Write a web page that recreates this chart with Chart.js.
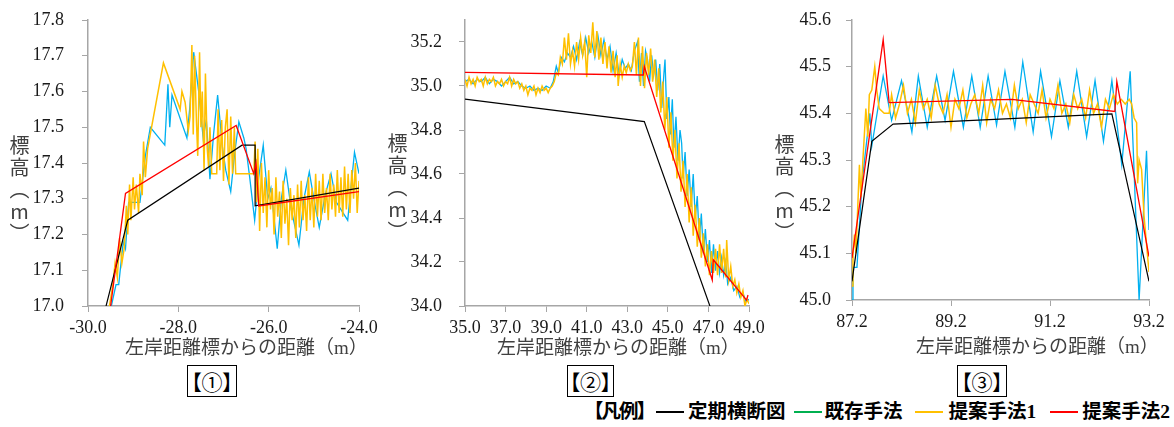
<!DOCTYPE html>
<html>
<head>
<meta charset="utf-8">
<script src="https://cdn.jsdelivr.net/npm/chart.js@4.4.1/dist/chart.umd.min.js"></script>
<style>
  body { margin: 0; width: 1174px; height: 427px; background: #fff; position: relative; overflow: hidden;
         font-family: "Liberation Serif", "Noto Sans CJK JP", serif; color: #404040; }
  canvas { position: absolute; top: 0; }
  .ytitle { position: absolute; font-family: "Noto Sans CJK JP"; font-size: 20px; line-height: 20px;
            writing-mode: vertical-rl; text-orientation: upright; letter-spacing: 2px; color: #404040; }
  .xtitle { position: absolute; font-size: 19px; line-height: 24px; white-space: nowrap; color: #404040; }
  .tag { position: absolute; top: 365px; height: 32px; border: 1px solid #000; box-sizing: border-box;
         font-family: "Noto Sans CJK JP"; font-size: 21px; line-height: 30px; text-align: center;
         font-feature-settings: "palt"; color: #000; }
  #legend { position: absolute; left: 584px; top: 400px; display: flex; align-items: center;
            font-weight: bold; font-size: 19.5px; line-height: 24px; color: #000; white-space: nowrap; }
  #legend .hd { letter-spacing: -2px; }
  #legend .ln { display: inline-block; width: 28px; height: 1.5px; }
</style>
</head>
<body>
<canvas id="c1" width="380" height="345" style="left:0px"></canvas>
<canvas id="c2" width="390" height="345" style="left:380px"></canvas>
<canvas id="c3" width="404" height="345" style="left:770px"></canvas>

<div class="ytitle" style="left:9px;top:135px">標高（m）</div>
<div class="ytitle" style="left:387px;top:133px">標高（m）</div>
<div class="ytitle" style="left:774px;top:134px">標高（m）</div>

<div class="xtitle" style="left:125px;top:336px">左岸距離標からの距離（m）</div>
<div class="xtitle" style="left:497px;top:336px">左岸距離標からの距離（m）</div>
<div class="xtitle" style="left:916px;top:335px">左岸距離標からの距離（m）</div>

<div class="tag" style="left:187px;width:50px">【①】</div>
<div class="tag" style="left:567px;width:47px">【②】</div>
<div class="tag" style="left:957px;width:50px">【③】</div>

<div id="legend"></div>

<script>
// series names and colours
const seriesNames = ['定期横断図', '既存手法', '提案手法1', '提案手法2'];
const seriesColors = ['#000000', '#00B0F0', '#FFC000', '#FF0000'];
const legendColors = ['#000000', '#00B050', '#FFC000', '#FF0000'];

// ---- panel 1 ----
const p1XTicks = [-30, -28, -26, -24];
const p1YTicks = [17.0, 17.1, 17.2, 17.3, 17.4, 17.5, 17.6, 17.7, 17.8];

const p1BlackX = [-29.7, -29.12, -26.59, -26.30, -26.30, -24.0];
const p1BlackY = [16.95, 17.24, 17.45, 17.45, 17.28, 17.33];

const p1RedX = [-29.52, -29.17, -26.72, -26.33, -26.28, -26.22, -24.0];
const p1RedY = [16.98, 17.315, 17.505, 17.37, 17.40, 17.28, 17.32];

const p1BlueX = [-29.5, -29.38, -29.32, -29.22, -29.17, -29.1, -28.85, -28.73, -28.62, -28.30, -28.23, -28.19,
  -28.14, -27.81, -27.75, -27.66, -27.55, -27.45, -27.38, -27.30, -27.22, -27.13, -27.02, -26.95, -26.84,
  -26.75, -26.66, -26.55, -26.5, -26.42, -26.31, -26.22, -26.12, -26.02, -25.95, -25.81, -25.72, -25.62,
  -25.5, -25.33, -25.22, -25.10, -25.0, -24.88, -24.75, -24.62, -24.5, -24.35, -24.25, -24.10, -24.0];
const p1BlueY = [16.99, 17.06, 17.06, 17.18, 17.16, 17.29, 17.29, 17.42, 17.50, 17.45, 17.62, 17.50,
  17.59, 17.47, 17.55, 17.71, 17.60, 17.47, 17.52, 17.355, 17.48, 17.59, 17.44, 17.38, 17.32,
  17.43, 17.515, 17.47, 17.44, 17.36, 17.24, 17.36, 17.45, 17.30, 17.33, 17.16, 17.30, 17.38,
  17.27, 17.17, 17.30, 17.375, 17.30, 17.22, 17.31, 17.37, 17.29, 17.26, 17.24, 17.43, 17.37];

const p1OrangeX = [-29.55, -29.45, -29.4, -29.35, -29.3, -29.25, -29.2, -29.15, -29.12, -29.08, -29.05, -29.0,
  -28.97, -28.93, -28.88, -28.85, -28.8, -28.77, -28.73, -28.68, -28.33, -27.96, -27.92, -27.85, -27.78,
  -27.74, -27.70, -27.67, -27.64, -27.6, -27.57, -27.53, -27.5, -27.47, -27.43, -27.4, -27.36, -27.33,
  -27.3, -27.26, -27.15, -27.12, -27.08, -27.04, -27.0, -26.96, -26.92, -26.88, -26.84, -26.8, -26.76,
  -26.73, -26.33, -26.3, -26.27, -26.24, -26.2, -26.16, -26.12, -26.08, -26.04, -26.0, -25.96, -25.92,
  -25.88, -25.84, -25.8, -25.76, -25.72, -25.68, -25.64, -25.6, -25.56, -25.52, -25.48, -25.44, -25.4,
  -25.36, -25.32, -25.28, -25.24, -25.2, -25.16, -25.12, -25.08, -25.04, -25.0, -24.96, -24.92, -24.88,
  -24.84, -24.8, -24.76, -24.72, -24.68, -24.64, -24.6, -24.56, -24.52, -24.48, -24.44, -24.4, -24.36,
  -24.32, -24.28, -24.24, -24.2, -24.16, -24.12, -24.08, -24.04, -24.0];
const p1OrangeY = [16.98, 17.06, 17.12, 17.08, 17.19, 17.12, 17.16, 17.28, 17.20, 17.34, 17.24, 17.36,
  17.27, 17.34, 17.26, 17.37, 17.31, 17.46, 17.36, 17.44, 17.68, 17.55, 17.60, 17.57, 17.49,
  17.53, 17.73, 17.48, 17.70, 17.52, 17.42, 17.71, 17.50, 17.60, 17.38, 17.65, 17.44, 17.39,
  17.50, 17.37, 17.37, 17.55, 17.38, 17.52, 17.35, 17.50, 17.55, 17.34, 17.53, 17.37, 17.50,
  17.37, 17.37, 17.46, 17.29, 17.44, 17.21, 17.40, 17.26, 17.36, 17.22, 17.38, 17.27, 17.33,
  17.20, 17.36, 17.25, 17.32, 17.19, 17.35, 17.23, 17.30, 17.17, 17.33, 17.24, 17.31, 17.19,
  17.34, 17.22, 17.35, 17.24, 17.31, 17.21, 17.36, 17.24, 17.33, 17.22, 17.37, 17.25, 17.35,
  17.24, 17.37, 17.26, 17.33, 17.24, 17.37, 17.27, 17.34, 17.25, 17.38, 17.26, 17.36, 17.25,
  17.39, 17.27, 17.37, 17.26, 17.38, 17.30, 17.40, 17.26, 17.35];

// ---- panel 2 ----
const p2XTicks = [35, 37, 39, 41, 43, 45, 47, 49];
const p2YTicks = [34.0, 34.2, 34.4, 34.6, 34.8, 35.0, 35.2];

const p2BlackX = [35.0, 43.84, 47.15];
const p2BlackY = [34.94, 34.838, 33.98];

const p2RedX = [35.0, 43.79, 43.84, 47.19, 47.24, 48.88, 48.95];
const p2RedY = [35.062, 35.05, 35.088, 34.118, 34.21, 34.027, 34.05];

const p2BlueX = [35.0, 35.2, 35.4, 35.6, 35.8, 36.0, 36.2, 36.4, 36.6, 36.8, 37.0, 37.2, 37.4, 37.6, 37.8,
  38.0, 38.2, 38.4, 38.6, 38.8, 39.0, 39.2, 39.35, 39.5, 39.6, 39.75, 39.9, 40.05, 40.2, 40.35, 40.5,
  40.65, 40.8, 40.95, 41.1, 41.25, 41.4, 41.55, 41.7, 41.85, 42.0, 42.15, 42.3, 42.45, 42.6, 42.75,
  42.9, 43.05, 43.2, 43.35, 43.5, 43.6, 43.7, 43.8, 43.9, 44.0, 44.1, 44.2, 44.3, 44.4, 44.5, 44.6,
  44.7, 44.8, 44.86, 44.95, 45.05, 45.12, 45.22, 45.3, 45.4, 45.5, 45.6, 45.68, 45.75, 45.85, 45.95,
  46.05, 46.15, 46.25, 46.35, 46.45, 46.55, 46.65, 46.75, 46.85, 46.95, 47.05, 47.15, 47.25, 47.35,
  47.45, 47.55, 47.65, 47.75, 47.85, 47.95, 48.1, 48.25, 48.4, 48.55, 48.7, 48.85, 49.0];
const p2BlueY = [35.02, 35.03, 35.01, 35.03, 35.02, 35.04, 35.01, 35.03, 35.02, 35.0, 35.02, 35.04, 35.01, 35.02, 35.0,
  34.99, 35.0, 34.98, 34.99, 34.98, 35.0, 34.99, 35.02, 35.09, 35.06, 35.13, 35.11, 35.15, 35.13, 35.18, 35.12,
  35.2, 35.14, 35.22, 35.15, 35.2, 35.13, 35.23, 35.14, 35.21, 35.12, 35.18, 35.07, 35.15, 35.05, 35.12,
  35.08, 35.1, 35.07, 35.16, 35.2, 35.02, 35.15, 35.0, 35.16, 35.12, 35.02, 35.14, 35.05, 35.12, 34.98, 35.1,
  34.9, 35.05, 35.12, 34.85, 34.95, 34.78, 34.94, 34.72, 34.86, 34.66, 34.8, 34.74, 34.58, 34.7, 34.5,
  34.62, 34.45, 34.6, 34.4, 34.5, 34.3, 34.42, 34.24, 34.35, 34.2, 34.3, 34.15, 34.28, 34.16,
  34.25, 34.15, 34.22, 34.14, 34.2, 34.1, 34.13, 34.07, 34.09, 34.04, 34.06, 34.02, 34.03];

const p2OrangeX = [35.0, 35.1, 35.2, 35.3, 35.4, 35.5, 35.6, 35.7, 35.8, 35.9, 36.0, 36.1, 36.2, 36.3, 36.4,
  36.5, 36.6, 36.7, 36.8, 36.9, 37.0, 37.1, 37.2, 37.3, 37.4, 37.5, 37.6, 37.7, 37.8, 37.9, 38.0, 38.1,
  38.2, 38.3, 38.4, 38.5, 38.6, 38.7, 38.8, 38.9, 39.0, 39.1, 39.2, 39.3, 39.4, 39.5, 39.6, 39.7, 39.8,
  39.9, 40.0, 40.1, 40.2, 40.3, 40.4, 40.5, 40.6, 40.7, 40.8, 40.9, 41.0, 41.1, 41.2, 41.3, 41.4, 41.5,
  41.6, 41.7, 41.8, 41.9, 42.0, 42.1, 42.2, 42.3, 42.4, 42.5, 42.55, 42.65, 42.75, 42.85, 42.95, 43.05,
  43.15, 43.25, 43.35, 43.45, 43.55, 43.65, 43.75, 43.85, 43.95, 44.05, 44.15, 44.25, 44.35, 44.45,
  44.55, 44.65, 44.75, 44.85, 44.95, 45.05, 45.15, 45.25, 45.35, 45.45, 45.55, 45.65, 45.75, 45.85,
  45.95, 46.05, 46.15, 46.25, 46.35, 46.45, 46.55, 46.65, 46.75, 46.85, 46.95, 47.05, 47.15, 47.25,
  47.35, 47.45, 47.55, 47.65, 47.75, 47.85, 47.9, 48.0, 48.1, 48.2, 48.3, 48.4, 48.5, 48.6, 48.7,
  48.8, 48.9, 49.0];
const p2OrangeY = [35.03, 35.0, 35.04, 35.01, 35.03, 35.0, 35.04, 35.02, 35.03, 35.0, 35.04, 35.01, 35.03, 35.02, 35.04,
  35.0, 35.02, 35.01, 35.03, 35.0, 35.02, 35.01, 35.04, 35.0, 35.03, 35.01, 35.02, 34.99, 35.01, 34.98, 35.0, 34.96,
  34.99, 34.98, 35.0, 34.96, 34.99, 34.97, 35.0, 34.98, 34.99, 34.97, 34.99, 35.0, 35.02, 35.06, 35.05, 35.13, 35.1,
  35.22, 35.12, 35.24, 35.1, 35.16, 35.09, 35.2, 35.12, 35.22, 35.14, 35.2, 35.04, 35.23, 35.15, 35.29, 35.13, 35.25,
  35.12, 35.22, 35.1, 35.2, 35.08, 35.18, 35.06, 35.16, 35.04, 35.14, 35.0, 35.1, 35.04, 35.09, 35.06, 35.1,
  35.07, 35.09, 35.2, 35.05, 35.22, 35.0, 35.18, 34.99, 35.15, 35.05, 35.17, 35.02, 35.12, 34.95,
  35.08, 34.88, 35.02, 34.8, 34.95, 34.72, 34.88, 34.66, 34.8, 34.58, 34.74, 34.52, 34.66, 34.45,
  34.6, 34.38, 34.54, 34.32, 34.46, 34.27, 34.4, 34.22, 34.33, 34.18, 34.28, 34.14, 34.25, 34.15,
  34.26, 34.14, 34.28, 34.15, 34.26, 34.13, 34.3, 34.12, 34.18, 34.09, 34.12, 34.06, 34.1, 34.04, 34.07,
  34.0, 34.03, 34.01];

// ---- panel 3 ----
const p3XTicks = [87.2, 89.2, 91.2, 93.2];
const p3YTicks = [45.0, 45.1, 45.2, 45.3, 45.4, 45.5, 45.6];

const p3BlackX = [87.2, 87.6, 88.03, 92.45, 93.2];
const p3BlackY = [45.04, 45.34, 45.377, 45.399, 45.04];

const p3RedX = [87.2, 87.83, 87.95, 90.43, 92.51, 92.55, 93.2];
const p3RedY = [45.09, 45.558, 45.423, 45.43, 45.404, 45.468, 45.093];

const p3BlueX = [87.2, 87.22, 87.3, 87.4, 87.56, 87.6, 87.83, 88.0, 88.2, 88.41, 88.54, 88.72, 88.91, 89.08,
  89.25, 89.45, 89.62, 89.79, 89.95, 90.12, 90.29, 90.49, 90.65, 90.86, 91.01, 91.23, 91.4, 91.57,
  91.74, 91.94, 92.11, 92.28, 92.45, 92.65, 92.82, 93.0, 93.15, 93.2];
const p3BlueY = [45.0, 45.07, 45.07, 45.25, 45.40, 45.33, 45.48, 45.385, 45.47, 45.36, 45.48, 45.37, 45.48, 45.385,
  45.49, 45.37, 45.48, 45.37, 45.48, 45.375, 45.49, 45.37, 45.51, 45.36, 45.49, 45.35, 45.47, 45.37,
  45.49, 45.35, 45.47, 45.34, 45.47, 45.29, 45.49, 45.0, 45.32, 45.15];

const p3OrangeX = [87.2, 87.22, 87.25, 87.28, 87.32, 87.35, 87.38, 87.42, 87.48, 87.52, 87.55, 87.6, 87.66,
  87.7, 87.75, 87.85, 87.95, 88.0, 88.08, 88.16, 88.24, 88.32, 88.40, 88.48, 88.56, 88.64, 88.72, 88.80,
  88.88, 88.96, 89.04, 89.12, 89.20, 89.28, 89.36, 89.44, 89.52, 89.60, 89.68, 89.76, 89.84, 89.92,
  90.00, 90.08, 90.16, 90.24, 90.32, 90.40, 90.48, 90.56, 90.64, 90.72, 90.80, 90.88, 90.96, 91.04,
  91.12, 91.20, 91.28, 91.36, 91.44, 91.52, 91.60, 91.68, 91.76, 91.84, 91.92, 92.00, 92.08, 92.16,
  92.24, 92.32, 92.40, 92.48, 92.56, 92.64, 92.72, 92.80, 92.85, 92.9, 92.95, 92.97, 93.0, 93.05,
  93.1, 93.15, 93.2];
const p3OrangeY = [45.03, 45.1, 45.14, 45.1, 45.21, 45.29, 45.22, 45.3, 45.41, 45.35, 45.44, 45.45, 45.50,
  45.45, 45.41, 45.40, 45.40, 45.44, 45.39, 45.42, 45.46, 45.40, 45.43, 45.38, 45.45, 45.41, 45.43, 45.39,
  45.46, 45.42, 45.40, 45.44, 45.37, 45.43, 45.41, 45.45, 45.39, 45.42, 45.44, 45.40, 45.46, 45.38,
  45.43, 45.41, 45.45, 45.40, 45.42, 45.39, 45.46, 45.41, 45.43, 45.38, 45.44, 45.42, 45.40, 45.45,
  45.39, 45.43, 45.41, 45.46, 45.40, 45.42, 45.38, 45.44, 45.41, 45.43, 45.39, 45.45, 45.40, 45.42,
  45.37, 45.43, 45.41, 45.44, 45.42, 45.43, 45.42, 45.43, 45.42, 45.39, 45.38, 45.25, 45.30, 45.28,
  45.18, 45.12, 45.06];

function pts(xs, ys) {
  return xs.map((x, i) => ({ x: x, y: ys[i] }));
}

const tickFont = { family: "'Liberation Serif', 'Times New Roman', serif", size: 18 };

function makePanel(id, p) {
  const ds = [
    { label: seriesNames[3], data: pts(p.redX, p.redY), borderColor: seriesColors[3], borderWidth: 1.3 },
    { label: seriesNames[0], data: pts(p.blackX, p.blackY), borderColor: seriesColors[0], borderWidth: 1.2 },
    { label: seriesNames[2], data: pts(p.orangeX, p.orangeY), borderColor: seriesColors[2], borderWidth: 1.5 },
    { label: seriesNames[1], data: pts(p.blueX, p.blueY), borderColor: seriesColors[1], borderWidth: 1.3 }
  ];
  ds.forEach(d => { d.pointRadius = 0; d.fill = false; d.tension = 0; });

  new Chart(document.getElementById(id), {
    type: 'line',
    data: { datasets: ds },
    options: {
      responsive: false,
      animation: false,
      devicePixelRatio: 1,
      layout: { padding: { left: 0, top: 20, right: p.padRight, bottom: 0 } },
      plugins: { legend: { display: false }, tooltip: { enabled: false } },
      scales: {
        x: {
          type: 'linear', min: p.xMin, max: p.xMax,
          grid: { drawOnChartArea: false, color: '#a6a6a6', tickLength: 6 },
          border: { color: '#a6a6a6', width: 1.5 },
          ticks: { autoSkip: false, maxRotation: 0, minRotation: 0, padding: 5, color: '#1a1a1a',
                   font: tickFont, callback: v => v.toFixed(1) },
          afterBuildTicks: s => { s.ticks = p.xTicks.map(v => ({ value: v })); },
          afterFit: s => { s.height = p.xH; s.paddingLeft = 0; s.paddingRight = 0; }
        },
        y: {
          min: p.yMin, max: p.yMax,
          grid: { drawOnChartArea: false, color: '#a6a6a6', tickLength: 6 },
          border: { color: '#a6a6a6', width: 1.5 },
          ticks: { padding: p.yPad, color: '#1a1a1a', font: tickFont, callback: v => v.toFixed(1) },
          afterBuildTicks: s => { s.ticks = p.yTicks.map(v => ({ value: v })); },
          afterFit: s => { s.width = p.yW; s.paddingTop = 0; s.paddingBottom = 0; }
        }
      }
    }
  });
}

makePanel('c1', {
  xMin: -30, xMax: -24, yMin: 17.0, yMax: 17.8, xTicks: p1XTicks, yTicks: p1YTicks,
  yW: 88, xH: 39, padRight: 21, yPad: 18,
  blackX: p1BlackX, blackY: p1BlackY, redX: p1RedX, redY: p1RedY,
  blueX: p1BlueX, blueY: p1BlueY, orangeX: p1OrangeX, orangeY: p1OrangeY
});
makePanel('c2', {
  xMin: 35, xMax: 49, yMin: 34.0, yMax: 35.3, xTicks: p2XTicks, yTicks: p2YTicks,
  yW: 85, xH: 39, padRight: 21, yPad: 17,
  blackX: p2BlackX, blackY: p2BlackY, redX: p2RedX, redY: p2RedY,
  blueX: p2BlueX, blueY: p2BlueY, orangeX: p2OrangeX, orangeY: p2OrangeY
});
makePanel('c3', {
  xMin: 87.2, xMax: 93.2, yMin: 45.0, yMax: 45.6, xTicks: p3XTicks, yTicks: p3YTicks,
  yW: 82, xH: 45, padRight: 25, yPad: 15,
  blackX: p3BlackX, blackY: p3BlackY, redX: p3RedX, redY: p3RedY,
  blueX: p3BlueX, blueY: p3BlueY, orangeX: p3OrangeX, orangeY: p3OrangeY
});

// legend row: gaps before each line and before each label
const legendLineGap = [2, 8, 12, 14];
const legendTextGap = [4, 3, 6, 4];
const legend = document.getElementById('legend');
let html = '<span class="hd">【凡例】</span>';
seriesNames.forEach((n, i) => {
  html += '<span class="ln" style="background:' + legendColors[i] + ';margin-left:' + legendLineGap[i] + 'px"></span>' +
          '<span style="margin-left:' + legendTextGap[i] + 'px">' + n + '</span>';
});
legend.innerHTML = html;
</script>
</body>
</html>
